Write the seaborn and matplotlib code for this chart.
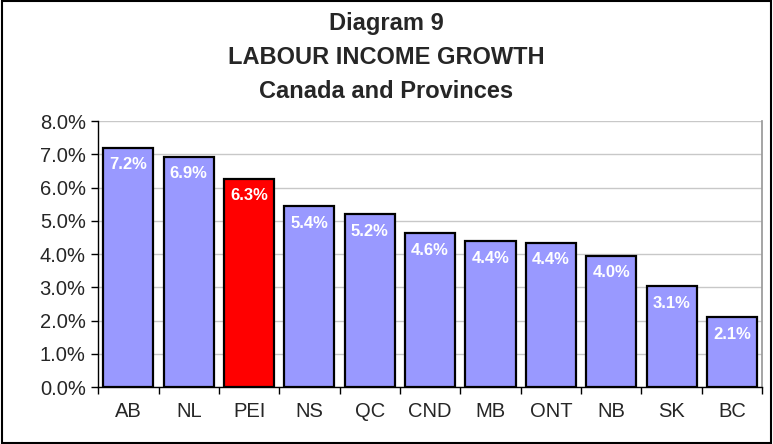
import numpy as np
import pandas as pd
import matplotlib
matplotlib.use("Agg")
import matplotlib.pyplot as plt
from matplotlib.patches import Rectangle
import seaborn as sns

# Data
provinces = ['AB', 'NL', 'PEI', 'NS', 'QC', 'CND', 'MB', 'ONT', 'NB', 'SK', 'BC']
growth = [7.2, 6.92, 6.26, 5.44, 5.2, 4.63, 4.39, 4.34, 3.95, 3.03, 2.1]
labels = ['7.2%', '6.9%', '6.3%', '5.4%', '5.2%', '4.6%', '4.4%', '4.4%', '4.0%', '3.1%', '2.1%']
highlight = 'PEI'

sns.set_theme(style="white")
plt.rcParams['font.family'] = ['Liberation Sans', 'DejaVu Sans']

df = pd.DataFrame({'Province': provinces, 'Growth': growth})
colors = {p: ('#FF0000' if p == highlight else '#9999FF') for p in provinces}

fig = plt.figure(figsize=(7.73, 4.44), dpi=100)
ax = fig.add_axes([0.127, 0.128, 0.859, 0.599])

sns.barplot(data=df, x='Province', y='Growth', hue='Province', palette=colors,
            legend=False, width=0.83, edgecolor='black', linewidth=1.6,
            saturation=1, ax=ax, zorder=3)

# value labels just inside the top of each bar
for i, (v, lab) in enumerate(zip(growth, labels)):
    ax.text(i, v - 0.28, lab, ha='center', va='top', color='white',
            fontsize=12, fontweight='bold', zorder=4)

ax.set_ylim(0, 8)
ax.set_xlim(-0.5, len(provinces) - 0.5)
ax.set_yticks(np.arange(0, 8.01, 1))
ax.set_yticklabels([f'{t:.1f}%' for t in np.arange(0, 8.01, 1)], fontsize=14.5)
ax.set_xticks(range(len(provinces)))
ax.set_xticklabels(provinces, fontsize=14.5)
ax.set_xticks(np.arange(-0.5, len(provinces), 1), minor=True)
ax.tick_params(axis='x', which='major', length=0, pad=11)
ax.tick_params(axis='x', which='minor', length=5, width=1, color='black', direction='out', bottom=True)
ax.tick_params(axis='y', length=5, width=1, color='black', direction='out', left=True, pad=4)
ax.yaxis.grid(True, color='#C8C8C8', linewidth=1, zorder=0)
ax.set_xlabel('')
ax.set_ylabel('')

ax.spines['top'].set_visible(False)
ax.spines['right'].set_color('#999999')
ax.spines['left'].set_color('black')
ax.spines['bottom'].set_color('black')
for s in ['left', 'bottom']:
    ax.spines[s].set_linewidth(1)

fig.text(0.5, 0.947, 'Diagram 9', ha='center', va='center', fontsize=17, fontweight='bold')
fig.text(0.5, 0.871, 'LABOUR INCOME GROWTH', ha='center', va='center', fontsize=17, fontweight='bold')
fig.text(0.5, 0.793, 'Canada and Provinces', ha='center', va='center', fontsize=17, fontweight='bold')

# outer frame round the whole figure
fig.patches.append(Rectangle((0.002, 0.003), 0.996, 0.994, transform=fig.transFigure,
                             fill=False, edgecolor='black', linewidth=1.5))

fig.savefig('out.png', dpi=100)
